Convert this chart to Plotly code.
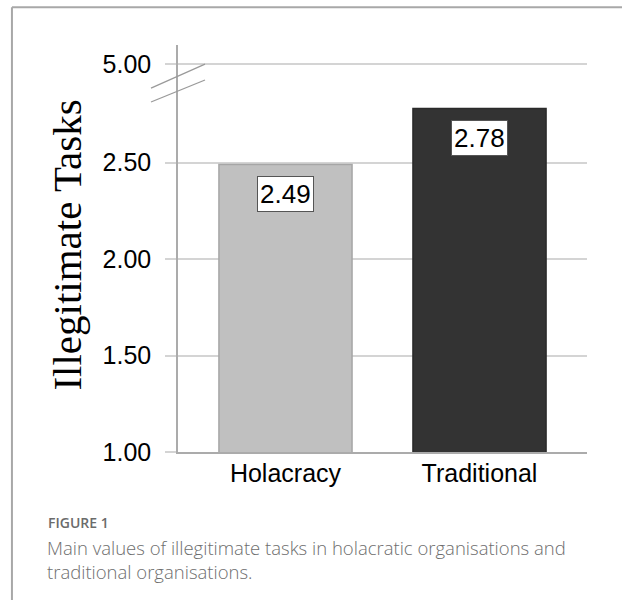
import plotly.graph_objects as go

# ---- data ----
categories = ["Holacracy", "Traditional"]
values = [2.49, 2.78]
value_labels = ["2.49", "2.78"]
tick_values = [1.0, 1.5, 2.0, 2.5]
tick_labels = ["1.00", "1.50", "2.00", "2.50"]
break_tick_label = "5.00"        # shown above the axis break
break_tick_position = 3.01       # where 5.00 sits on the compressed (broken) scale
bar_colors = ["#c0c0c0", "#333333"]
bar_line_colors = ["#a6a6a6", "#2a2a2a"]

fig = go.Figure()
fig.add_trace(go.Bar(
    x=categories, y=values, width=0.686,
    marker=dict(color=bar_colors, line=dict(color=bar_line_colors, width=1.5)),
    hoverinfo="skip", showlegend=False,
))

# value labels in white boxes
for c, v, t in zip(categories, values, value_labels):
    fig.add_annotation(x=c, y=v, xref="x", yref="y", text=t, showarrow=False,
                       yanchor="top", yshift=-12,
                       font=dict(family="Liberation Sans, Arial", size=26, color="#000"),
                       bgcolor="#ffffff", bordercolor="#555555", borderwidth=1, borderpad=2)

grid_col = "#d4d4d4"
fig.update_layout(
    width=622, height=600,
    margin=dict(l=178, r=35, t=45, b=148),
    paper_bgcolor="#ffffff", plot_bgcolor="#ffffff",
    bargap=0.3,
    xaxis=dict(
        range=[-0.554, 1.554], showgrid=False, zeroline=False,
        showline=True, linecolor="#ababab", linewidth=1.5,
        ticks="", tickfont=dict(family="Liberation Sans, Arial", size=25, color="#000"),
        ticklabelstandoff=-2,
    ),
    yaxis=dict(
        range=[1.0, 3.109], showgrid=True, gridcolor=grid_col, gridwidth=1.5,
        zeroline=False, showline=True, linecolor="#ababab", linewidth=1.5,
        tickvals=tick_values + [break_tick_position],
        ticktext=tick_labels + [break_tick_label],
        ticks="outside", ticklen=11, tickcolor=grid_col, tickwidth=1.5,
        tickfont=dict(family="Liberation Sans, Arial", size=25, color="#000"),
        ticklabelstandoff=9,
    ),
)

# y axis title (serif)
fig.add_annotation(x=-0.272, y=0.509, xref="paper", yref="paper",
                   text="Illegitimate Tasks", textangle=-90, showarrow=False,
                   xanchor="center", yanchor="middle",
                   font=dict(family="Liberation Serif, Times New Roman", size=41, color="#000"))

# axis-break marks
for y0, y1 in [(0.894, 0.953), (0.860, 0.914)]:
    fig.add_shape(type="line", xref="paper", yref="paper",
                  x0=-0.066, y0=y0, x1=0.066, y1=y1,
                  line=dict(color="#9a9a9a", width=1.3))

# figure frame (left and top edges)
fig.add_shape(type="line", xref="paper", yref="paper",
              x0=-0.406, y0=1.093, x1=1.2, y1=1.093, line=dict(color="#a8a8a8", width=2))
fig.add_shape(type="line", xref="paper", yref="paper",
              x0=-0.406, y0=1.093, x1=-0.406, y1=-0.4, line=dict(color="#a8a8a8", width=2))

# caption
fig.add_annotation(x=-0.322, y=-0.172, xref="paper", yref="paper",
                   text="FIGURE 1", showarrow=False, xanchor="left", yanchor="middle",
                   font=dict(family="Open Sans", size=14, color="#6b6b6b", weight=600))
fig.add_annotation(x=-0.325, y=-0.198, xref="paper", yref="paper",
                   text="Main values of illegitimate tasks in holacratic organisations and<br>traditional organisations.",
                   showarrow=False, xanchor="left", yanchor="top", align="left",
                   font=dict(family="Open Sans", size=18.5, color="#6e6e6e", weight=300))

fig.write_html("out.html")
